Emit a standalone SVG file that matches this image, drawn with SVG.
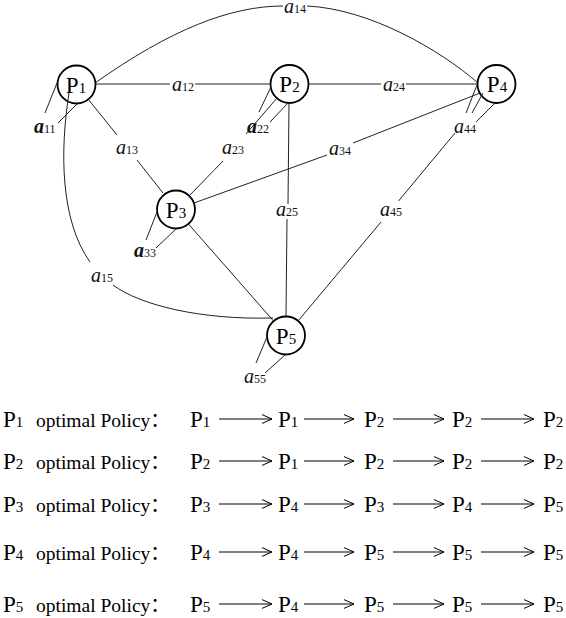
<svg xmlns="http://www.w3.org/2000/svg" width="566" height="618" viewBox="0 0 566 618">
<style>
.ln{fill:none;stroke:#222;stroke-width:1}
.nc{fill:#fff;stroke:#000;stroke-width:1.8}
.nt{font-family:"Liberation Serif","Times New Roman",serif;font-size:23px;fill:#000;text-anchor:middle}
.nt tspan{font-size:15px}
.lb{font-family:"Liberation Serif","Times New Roman",serif;fill:#111}
.ai{font-style:italic;font-size:20px}
.ab{font-style:italic;font-weight:bold;font-size:20px}
.sb{font-size:12px}
.rt{font-family:"Liberation Serif","Times New Roman","Noto Sans CJK SC",serif;font-size:19.5px;fill:#000}
.rp{font-family:"Liberation Serif","Times New Roman",serif;font-size:23px;fill:#000}
.rp tspan{font-size:15px}
.ar{fill:none;stroke:#000;stroke-width:1;marker-end:url(#chev)}
</style>
<defs>
<marker id="chev" markerUnits="userSpaceOnUse" markerWidth="12" markerHeight="12" refX="10" refY="5" orient="auto" viewBox="0 0 12 10">
<path d="M0,0.6 L10,5 L0,9.4" fill="none" stroke="#000" stroke-width="1"/>
</marker>
</defs>

<g id="nodes">
<g id="P1"><circle class="nc" cx="76.5" cy="84.5" r="19"/><text class="nt" x="76" y="92.5">P<tspan>1</tspan></text></g>
<g id="P2"><circle class="nc" cx="289.5" cy="84" r="19"/><text class="nt" x="289.5" y="92">P<tspan>2</tspan></text></g>
<g id="P4"><circle class="nc" cx="496.5" cy="84" r="19"/><text class="nt" x="497" y="92">P<tspan>4</tspan></text></g>
<g id="P3"><circle class="nc" cx="176" cy="209.5" r="19"/><text class="nt" x="176" y="217.5">P<tspan>3</tspan></text></g>
<g id="P5"><circle class="nc" cx="286" cy="335.5" r="19"/><text class="nt" x="286" y="343.5">P<tspan>5</tspan></text></g>
</g>

<g id="connectors">
<path class="ln" d="M95.5,84 H170 M195,84 H270.5"/>
<path class="ln" d="M308.5,84 H381 M406,84 H477.5"/>
<path class="ln" d="M95,83 C170,30 230,6 283,6 M307,6 C370,9 440,50 478,83"/>
<path class="ln" d="M88,99 L117,135 M137,160 L163,193"/>
<path class="ln" d="M223,161 L189,196"/>
<path class="ln" d="M194,203 L327,155 M353,143 L480,93"/>
<path class="ln" d="M289,103 L288,204 M287,219 L286,316.5"/>
<path class="ln" d="M188.5,224 L273.5,321"/>
<path class="ln" d="M298,321 L381,222 M398.5,201 L455,133"/>
<path class="ln" d="M69,93 C60,150 60,220 90,262 M113,285 C140,305 200,320 273,318"/>
<path class="ln" d="M57,83 L45,113 M78,103 L58,123"/>
<path class="ln" d="M271,87 L259,112 M277,98 L246,134 M288,103 L270,122"/>
<path class="ln" d="M477,85 L466,113 M483,93 L472,113 M495,103 L476,122"/>
<path class="ln" d="M157,212 L146,240 M176,229 L156,248"/>
<path class="ln" d="M267,337 L256,363 M285,355 L265,373"/>
</g>

<g id="labels">
<text class="lb" x="34" y="133"><tspan class="ab">a</tspan><tspan class="sb">11</tspan></text>
<text class="lb" x="172" y="91"><tspan class="ai">a</tspan><tspan class="sb">12</tspan></text>
<text class="lb" x="284" y="13"><tspan class="ai">a</tspan><tspan class="sb">14</tspan></text>
<text class="lb" x="383" y="91"><tspan class="ai">a</tspan><tspan class="sb">24</tspan></text>
<text class="lb" x="116" y="154"><tspan class="ai">a</tspan><tspan class="sb">13</tspan></text>
<text class="lb" x="222" y="154"><tspan class="ai">a</tspan><tspan class="sb">23</tspan></text>
<text class="lb" x="247" y="133"><tspan class="ab">a</tspan><tspan class="sb">22</tspan></text>
<text class="lb" x="329" y="155"><tspan class="ai">a</tspan><tspan class="sb">34</tspan></text>
<text class="lb" x="454" y="133"><tspan class="ai">a</tspan><tspan class="sb">44</tspan></text>
<text class="lb" x="276" y="216"><tspan class="ai">a</tspan><tspan class="sb">25</tspan></text>
<text class="lb" x="380" y="216"><tspan class="ai">a</tspan><tspan class="sb">45</tspan></text>
<text class="lb" x="91" y="282"><tspan class="ai">a</tspan><tspan class="sb">15</tspan></text>
<text class="lb" x="134" y="257"><tspan class="ab">a</tspan><tspan class="sb">33</tspan></text>
<text class="lb" x="244" y="383"><tspan class="ai">a</tspan><tspan class="sb">55</tspan></text>
</g>

<g id="policies">
<g id="row1">
<text class="rp" x="3" y="427">P<tspan>1</tspan></text>
<text class="rt" x="36" y="427">optimal Policy：</text>
<text class="rp" x="190" y="427">P<tspan>1</tspan></text>
<text class="rp" x="278" y="427">P<tspan>1</tspan></text>
<text class="rp" x="364" y="427">P<tspan>2</tspan></text>
<text class="rp" x="452" y="427">P<tspan>2</tspan></text>
<text class="rp" x="543" y="427">P<tspan>2</tspan></text>
<path class="ar" d="M219,419 H272"/><path class="ar" d="M304,419 H354"/><path class="ar" d="M393,419 H444"/><path class="ar" d="M481,419 H534"/>
</g>
<g id="row2">
<text class="rp" x="3" y="469">P<tspan>2</tspan></text>
<text class="rt" x="36" y="469">optimal Policy：</text>
<text class="rp" x="190" y="469">P<tspan>2</tspan></text>
<text class="rp" x="278" y="469">P<tspan>1</tspan></text>
<text class="rp" x="364" y="469">P<tspan>2</tspan></text>
<text class="rp" x="452" y="469">P<tspan>2</tspan></text>
<text class="rp" x="543" y="469">P<tspan>2</tspan></text>
<path class="ar" d="M219,461 H272"/><path class="ar" d="M304,461 H354"/><path class="ar" d="M393,461 H444"/><path class="ar" d="M481,461 H534"/>
</g>
<g id="row3">
<text class="rp" x="3" y="512">P<tspan>3</tspan></text>
<text class="rt" x="36" y="512">optimal Policy：</text>
<text class="rp" x="190" y="512">P<tspan>3</tspan></text>
<text class="rp" x="278" y="512">P<tspan>4</tspan></text>
<text class="rp" x="364" y="512">P<tspan>3</tspan></text>
<text class="rp" x="452" y="512">P<tspan>4</tspan></text>
<text class="rp" x="543" y="512">P<tspan>5</tspan></text>
<path class="ar" d="M219,504 H272"/><path class="ar" d="M304,504 H354"/><path class="ar" d="M393,504 H444"/><path class="ar" d="M481,504 H534"/>
</g>
<g id="row4">
<text class="rp" x="3" y="560">P<tspan>4</tspan></text>
<text class="rt" x="36" y="560">optimal Policy：</text>
<text class="rp" x="190" y="560">P<tspan>4</tspan></text>
<text class="rp" x="278" y="560">P<tspan>4</tspan></text>
<text class="rp" x="364" y="560">P<tspan>5</tspan></text>
<text class="rp" x="452" y="560">P<tspan>5</tspan></text>
<text class="rp" x="543" y="560">P<tspan>5</tspan></text>
<path class="ar" d="M219,552 H272"/><path class="ar" d="M304,552 H354"/><path class="ar" d="M393,552 H444"/><path class="ar" d="M481,552 H534"/>
</g>
<g id="row5">
<text class="rp" x="3" y="612">P<tspan>5</tspan></text>
<text class="rt" x="36" y="612">optimal Policy：</text>
<text class="rp" x="190" y="612">P<tspan>5</tspan></text>
<text class="rp" x="278" y="612">P<tspan>4</tspan></text>
<text class="rp" x="364" y="612">P<tspan>5</tspan></text>
<text class="rp" x="452" y="612">P<tspan>5</tspan></text>
<text class="rp" x="543" y="612">P<tspan>5</tspan></text>
<path class="ar" d="M219,604 H272"/><path class="ar" d="M304,604 H354"/><path class="ar" d="M393,604 H444"/><path class="ar" d="M481,604 H534"/>
</g>
</g>
</svg>
